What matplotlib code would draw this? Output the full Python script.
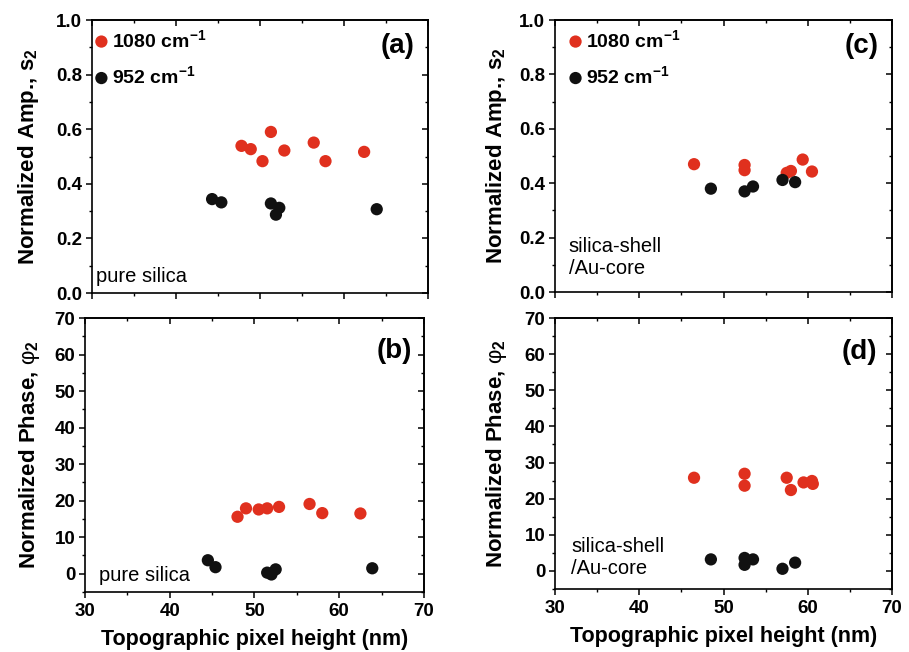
import matplotlib
matplotlib.use("Agg")
import matplotlib.pyplot as plt
from matplotlib.ticker import MultipleLocator

plt.rcParams["font.family"] = ["Liberation Sans", "DejaVu Sans"]
plt.rcParams["mathtext.fontset"] = "custom"
plt.rcParams["mathtext.rm"] = "Liberation Sans"
plt.rcParams["mathtext.it"] = "Liberation Sans:italic"
plt.rcParams["mathtext.bf"] = "Liberation Sans:bold"

RED = "#e0301e"
BLACK = "#111111"

# (a) pure silica, amplitude s2
a_x_1080 = [47.8, 48.9, 51.3, 50.3, 52.9, 56.4, 57.8, 62.4]
a_y_1080 = [0.539, 0.527, 0.590, 0.483, 0.522, 0.551, 0.483, 0.517]
a_x_952 = [44.3, 45.4, 51.3, 52.3, 51.9, 63.9]
a_y_952 = [0.344, 0.332, 0.328, 0.312, 0.287, 0.307]

# (b) pure silica, phase phi2
b_x_1080 = [48.0, 49.0, 50.5, 51.5, 52.9, 56.5, 58.0, 62.5]
b_y_1080 = [15.6, 17.9, 17.6, 17.9, 18.3, 19.1, 16.6, 16.5]
b_x_952 = [44.5, 45.4, 51.5, 52.0, 52.5, 63.9]
b_y_952 = [3.7, 1.8, 0.3, -0.2, 1.2, 1.5]

# (c) silica-shell/Au-core, amplitude s2
c_x_1080 = [46.5, 52.5, 52.5, 57.5, 58.0, 59.4, 60.5]
c_y_1080 = [0.470, 0.467, 0.448, 0.438, 0.445, 0.487, 0.443]
c_x_952 = [48.5, 52.5, 53.5, 57.0, 58.5]
c_y_952 = [0.380, 0.370, 0.388, 0.412, 0.404]

# (d) silica-shell/Au-core, phase phi2
d_x_1080 = [46.5, 52.5, 52.5, 57.5, 58.0, 59.5, 60.5, 60.6]
d_y_1080 = [25.8, 26.9, 23.6, 25.8, 22.4, 24.5, 24.9, 24.1]
d_x_952 = [48.5, 52.5, 52.5, 53.5, 57.0, 58.5]
d_y_952 = [3.2, 3.6, 1.7, 3.2, 0.6, 2.3]

AMP_LABEL = r"Normalized Amp., $\mathbf{s_2}$"
PHASE_LABEL = r"Normalized Phase, $\mathrm{\varphi}_\mathbf{2}$"
X_LABEL = "Topographic pixel height (nm)"
LEGEND_LABELS = [r"1080 cm$^{\mathbf{-1}}$", r"952 cm$^{\mathbf{-1}}$"]

MARKER_S = 78
TICK_FS = 13.5


def style_axes(ax, amp, show_xticklabels):
    ax.set_xlim(30, 70)
    ax.xaxis.set_major_locator(MultipleLocator(10))
    ax.xaxis.set_minor_locator(MultipleLocator(5))
    if amp:
        ax.set_ylim(0.0, 1.0)
        ax.yaxis.set_major_locator(MultipleLocator(0.2))
        ax.yaxis.set_minor_locator(MultipleLocator(0.1))
        ax.yaxis.set_major_formatter(lambda v, p: f"{v:.1f}")
    else:
        ax.set_ylim(-5, 70)
        ax.yaxis.set_major_locator(MultipleLocator(10))
        ax.yaxis.set_minor_locator(MultipleLocator(5))
        ax.yaxis.set_major_formatter(lambda v, p: f"{v:.0f}")
    for sp in ax.spines.values():
        sp.set_linewidth(1.2)
    ax.tick_params(which="major", direction="out", length=4.5, width=1.1,
                   labelsize=TICK_FS, pad=2.5)
    ax.tick_params(axis="x", which="major", pad=3.5)
    ax.tick_params(which="minor", direction="out", length=2.5, width=1.0)
    for lab in ax.get_xticklabels() + ax.get_yticklabels():
        lab.set_fontweight("bold")
    if not show_xticklabels:
        ax.tick_params(axis="x", labelbottom=False)

    # inward ticks on the top and right frame
    top = ax.secondary_xaxis("top")
    top.xaxis.set_major_locator(MultipleLocator(10))
    top.xaxis.set_minor_locator(MultipleLocator(5))
    top.tick_params(which="major", direction="in", length=4.5, width=1.1,
                    labeltop=False)
    top.tick_params(which="minor", direction="in", length=2.5, width=1.0)
    right = ax.secondary_yaxis("right")
    right.yaxis.set_major_locator(ax.yaxis.get_major_locator())
    right.yaxis.set_minor_locator(ax.yaxis.get_minor_locator())
    right.tick_params(which="major", direction="in", length=4.5, width=1.1,
                      labelright=False)
    right.tick_params(which="minor", direction="in", length=2.5, width=1.0)
    for sec in (top, right):
        for sp in sec.spines.values():
            sp.set_linewidth(1.2)


def draw_panel(ax, x1080, y1080, x952, y952, tag, sample, amp, legend_x,
               show_xticklabels, ylabel_x, tag_pos, sample_pos):
    ax.scatter(x1080, y1080, s=MARKER_S, color=RED, edgecolors="none",
               zorder=3, label=LEGEND_LABELS[0])
    ax.scatter(x952, y952, s=MARKER_S, color=BLACK, edgecolors="none",
               zorder=3, label=LEGEND_LABELS[1])
    style_axes(ax, amp, show_xticklabels)
    ax.set_ylabel(AMP_LABEL if amp else PHASE_LABEL, fontsize=16,
                  fontweight="bold")
    ax.yaxis.set_label_coords(ylabel_x, 0.5)
    ax.yaxis.label.set_va("center")
    if show_xticklabels:
        ax.set_xlabel(X_LABEL, fontsize=15.5, fontweight="bold")
        ax.xaxis.set_label_coords(0.5, -0.175)
        ax.xaxis.label.set_va("center")
    ax.text(tag_pos[0], tag_pos[1], tag, transform=ax.transAxes,
            ha="right", va="center", fontsize=20, fontweight="bold")
    ax.text(sample_pos[0], sample_pos[1], sample, transform=ax.transAxes,
            ha="left", va="bottom", fontsize=14.5, linespacing=1.2)
    if legend_x is not None:
        leg = ax.legend(loc="upper left", bbox_to_anchor=(legend_x, 1.0),
                        frameon=False, handletextpad=0.05,
                        labelspacing=0.75, borderaxespad=0.05,
                        handlelength=1.0, prop={"weight": "bold", "size": 14})
        for h in leg.legend_handles:
            h.set_sizes([MARKER_S])


fig = plt.figure(figsize=(9.09, 6.52), dpi=100)
ax_a = fig.add_axes([0.1012, 0.5506, 0.3696, 0.4187])
ax_b = fig.add_axes([0.0935, 0.0920, 0.3729, 0.4202])
ax_c = fig.add_axes([0.6106, 0.5521, 0.3707, 0.4172])
ax_d = fig.add_axes([0.6106, 0.0966, 0.3707, 0.4156])

draw_panel(ax_a, a_x_1080, a_y_1080, a_x_952, a_y_952, "(a)", "pure silica",
           True, -0.027, False, -0.19, (0.96, 0.905), (0.012, 0.025))
draw_panel(ax_b, b_x_1080, b_y_1080, b_x_952, b_y_952, "(b)", "pure silica",
           False, None, True, -0.165, (0.965, 0.88), (0.04, 0.025))
draw_panel(ax_c, c_x_1080, c_y_1080, c_x_952, c_y_952, "(c)",
           "silica-shell\n/Au-core", True, 0.006, False, -0.175,
           (0.96, 0.905), (0.04, 0.053))
draw_panel(ax_d, d_x_1080, d_y_1080, d_x_952, d_y_952, "(d)",
           "silica-shell\n/Au-core", False, None, True, -0.175,
           (0.955, 0.875), (0.048, 0.04))

fig.savefig("out.png", dpi=100)
